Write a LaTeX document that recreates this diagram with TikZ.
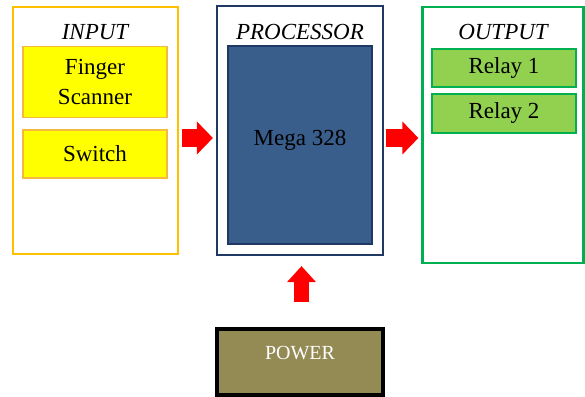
\documentclass[tikz,border=0pt]{standalone}
\usepackage{fontspec}
\setmainfont{Liberation Serif}
\usepackage{tikz}
\usetikzlibrary{arrows.meta,positioning}
\definecolor{InOrange}{HTML}{FFC000}
\definecolor{InYellow}{HTML}{FFFF00}
\definecolor{InEdge}{HTML}{F6B940}
\definecolor{ProcNavy}{HTML}{1F3864}
\definecolor{ProcBlue}{HTML}{3A5E8C}
\definecolor{OutGreen}{HTML}{00B050}
\definecolor{OutLight}{HTML}{92D050}
\definecolor{PowerOlive}{HTML}{948A54}
\tikzset{
  blockarrow/.style={draw=red, line width=18pt, -{Triangle[length=16pt,width=32pt]}},
  uparrow/.style={draw=red, line width=15pt, -{Triangle[length=16pt,width=28pt]}},
  title/.style={font=\fontsize{23}{27}\selectfont\itshape, inner sep=0pt}
}
\begin{document}
\begin{tikzpicture}[
  x=1pt, y=-1pt,
  font=\fontsize{23}{30}\selectfont,
  frame/.style={draw, line width=2.2pt, fill=white, inner sep=0pt},
  item/.style={draw, line width=1.2pt, align=center, inner sep=0pt, minimum width=144pt}
]
\useasboundingbox (0,0) rectangle (585,396);
% outer blocks
\node[frame, draw=InOrange, minimum width=165pt, minimum height=247pt] at (95.5,130.5) (inbox) {};
\node[frame, draw=ProcNavy, minimum width=166pt, minimum height=249pt] at (300,130.5) (procbox) {};
\node[frame, draw=OutGreen, minimum width=161pt, minimum height=256pt] at (503,135) (outbox) {};
\node[frame, draw=black, line width=3.2pt, fill=PowerOlive, text=white, font=\fontsize{20}{24}\selectfont,
  minimum width=166pt, minimum height=66pt, text depth=18pt] at (300,362) (pwrbox) {POWER};

% titles
\node[title] at (95,32) (intitle) {INPUT};
\node[title] at (300,32) (proctitle) {PROCESSOR};
\node[title] at (503,32) (outtitle) {OUTPUT};

% inner parts
\node[item, draw=InEdge, fill=InYellow, minimum height=71pt] at (95,82) (finger) {Finger\\Scanner};
\node[item, draw=InEdge, fill=InYellow, minimum height=48pt] at (95,154) (switch) {Switch};
\node[item, draw=ProcNavy, fill=ProcBlue, minimum height=198pt, text depth=15pt] at (300,145) (mega) {Mega 328};
\node[item, draw=OutGreen, fill=OutLight, minimum height=38pt] at (504,68) (relayA) {Relay 1};
\node[item, draw=OutGreen, fill=OutLight, minimum height=39pt] at (504,113.5) (relayB) {Relay 2};

% arrows
\coordinate (inarr) at ([yshift=-7.5pt]inbox.east);
\coordinate (outarr) at ([yshift=-7.5pt]procbox.east);
\draw[blockarrow, shorten <=3pt, shorten >=3pt] (inarr) -- (inarr -| procbox.west);
\draw[blockarrow, shorten <=2pt, shorten >=3pt] (outarr) -- (outarr -| outbox.west);
\draw[uparrow, shorten <=25pt, shorten >=10pt] ([xshift=1.5pt]pwrbox.north) -- ([xshift=1.5pt]procbox.south);
\end{tikzpicture}
\end{document}
